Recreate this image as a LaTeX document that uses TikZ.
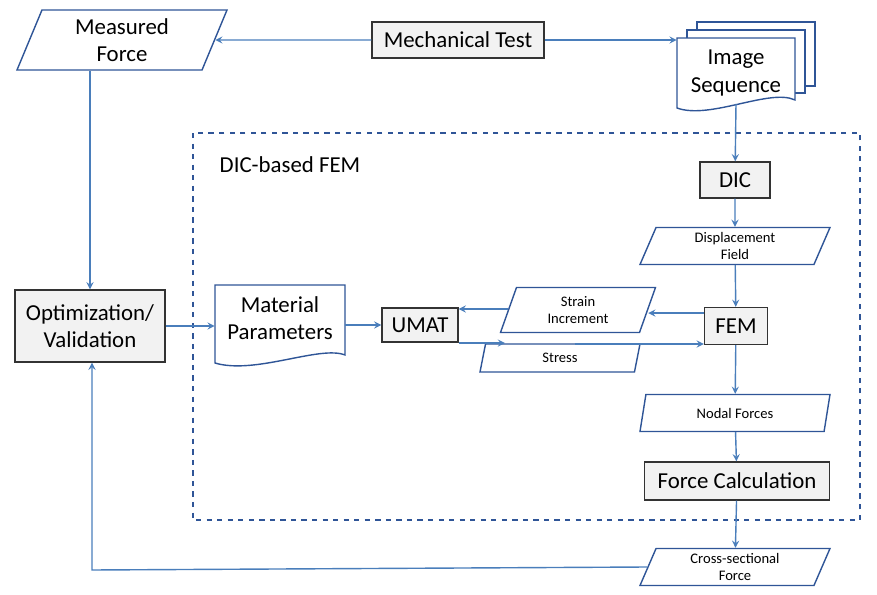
\documentclass[tikz,border=0pt]{standalone}
\usepackage{fontspec}
\setmainfont{Carlito}
\usetikzlibrary{shapes.geometric, arrows, calc}
\newdimen\px \px=0.02cm
\definecolor{lineblue}{HTML}{4A7EBB}
\definecolor{edgeblue}{HTML}{2F5597}
\definecolor{boxgray}{HTML}{F2F2F2}
\tikzstyle{process} = [rectangle, draw=black!80, fill=boxgray, thick, text centered, inner sep=0pt, font=\fontsize{13}{15.5}\selectfont]
\tikzstyle{io} = [trapezium, trapezium left angle=60, trapezium right angle=120, trapezium stretches body, draw=edgeblue, thick, fill=white, inner sep=0pt, align=center, font=\fontsize{8.3}{10}\selectfont]
\tikzstyle{iobig} = [io, font=\fontsize{13}{15.5}\selectfont]
\tikzstyle{doc} = [rectangle, inner sep=0pt, align=center, font=\fontsize{13}{15.5}\selectfont]
\tikzstyle{docline} = [draw=edgeblue, thick, fill=white]
\tikzstyle{arrow} = [draw=lineblue, thick, ->, >=stealth]

\begin{document}
\begin{tikzpicture}[x=0.02cm, y=-0.02cm]
        \useasboundingbox (0,0) rectangle (877,595);
        \draw[edgeblue, thick, dashed] (193,133) rectangle (860,520);
        \node at (290,165) {\fontsize{13}{15.5}\selectfont DIC-based FEM};

        % image sequence stack
        \foreach \d in {20,10} {
            \draw[docline] (677+\d,38-0.8*\d) rectangle (795+\d,100-0.7*\d);
        }
        \draw[docline] (677,38) -- (795,38) -- (795,100) .. controls (770,88) and (710,120) .. (677,108) -- cycle;
        \node (imgseq) [doc, minimum width=118\px, minimum height=70\px] at (736,73) {Image\\Sequence};

        % material parameters
        \draw[docline] (215,285) -- (345,285) -- (345,355) .. controls (320,345) and (255,375) .. (215,363) -- cycle;
        \node (matpar) [doc, minimum width=130\px, minimum height=80\px] at (280,318) {Material\\Parameters};

        \node (force) [iobig, minimum width=210\px, minimum height=60\px] at (122,40) {Measured\\Force};
        \node (mech) [process, minimum width=172\px, minimum height=36\px] at (458,40) {Mechanical Test};
        \node (dic) [process, minimum width=70\px, minimum height=36\px] at (735,180) {DIC};
        \node (disp) [io, minimum width=190\px, minimum height=37\px] at (735,246) {Displacement\\Field};
        \node (opt) [process, minimum width=150\px, minimum height=72\px, align=center] at (90,326) {Optimization/\\Validation};
        \node (umat) [process, minimum width=76\px, minimum height=34\px] at (420,325) {UMAT};
        \node (strain) [io, minimum width=155\px, minimum height=45\px] at (578,310) {Strain\\Increment};
        \node (fem) [process, minimum width=63\px, minimum height=37\px] at (736,326) {FEM};
        \node (stress) [io, minimum width=160\px, minimum height=28\px] at (560,358) {Stress};
        \node (nodal) [io, minimum width=190\px, minimum height=37\px] at (735,413) {Nodal Forces};
        \node (fcalc) [process, minimum width=185\px, minimum height=38\px] at (737,481) {Force Calculation};
        \node (cross) [io, minimum width=190\px, minimum height=37\px] at (735,567) {Cross-sectional\\Force};

        \draw[arrow] (mech) -- (force);
        \draw[arrow] (mech) -- (imgseq.west |- mech);
        \draw[arrow] (736,104) -- (dic);
        \draw[arrow] (dic) -- (disp);
        \draw[arrow] (disp) -- (fem);
        \draw[arrow] (fem.west |- 0,313) -- (strain.east |- 0,313);
        \draw[arrow] (strain.west |- 0,309) -- (umat.east |- 0,309);
        \draw[arrow] (umat.east |- 0,343) -- (505,343);
        \draw[arrow] (stress.north east |- 0,344) -- (fem.west |- 0,344);
        \draw[arrow] (opt) -- (matpar.west |- opt);
        \draw[arrow] (matpar.east |- umat) -- (umat);
        \draw[arrow] (fem) -- (nodal);
        \draw[arrow] (nodal) -- (fcalc);
        \draw[arrow] (fcalc) -- (cross);
        \draw[arrow] (force.south -| opt) -- (opt);
        \draw[arrow] (cross.west) -- (92,570) -- (opt.south -| 92,0);
    \end{tikzpicture}
\end{document}
